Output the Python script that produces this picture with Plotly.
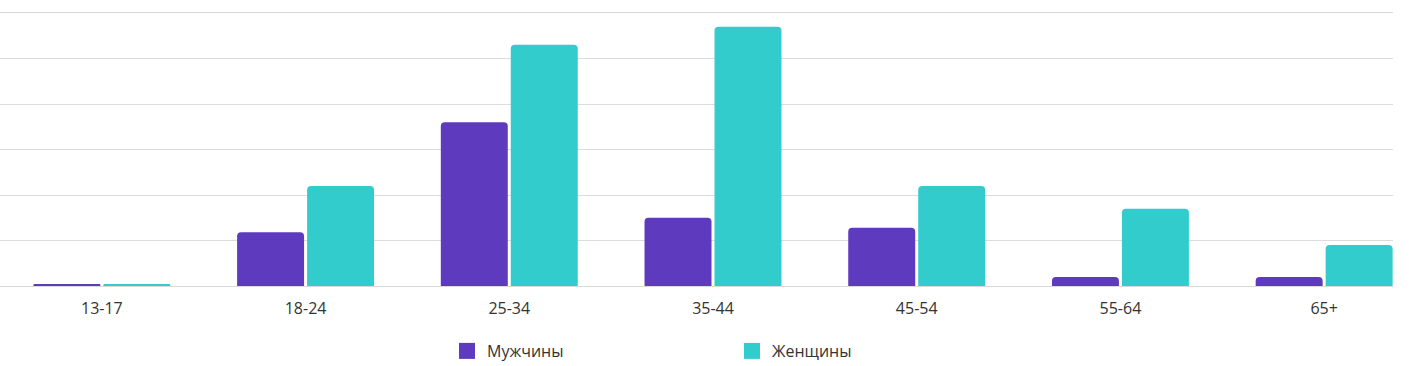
import plotly.graph_objects as go

categories = ["13-17", "18-24", "25-34", "35-44", "45-54", "55-64", "65+"]
men = [0.2, 5.9, 18.0, 7.5, 6.4, 1.0, 1.0]
women = [0.2, 11.0, 26.5, 28.5, 11.0, 8.5, 4.5]
series_names = ["Мужчины", "Женщины"]
colors = ["#5E3BBE", "#33CCCC"]

fig = go.Figure()
for name, vals, col in zip(series_names, [men, women], colors):
    fig.add_trace(go.Bar(x=categories, y=vals, name=name, marker_color=col,
                         marker_line_width=0, showlegend=False))
for name, col in zip(series_names, colors):
    fig.add_trace(go.Scatter(x=[None], y=[None], mode="markers", name=name,
                             marker=dict(symbol="square", size=20, color=col)))

fig.update_layout(
    width=1417, height=366,
    margin=dict(l=0, r=24, t=13, b=80, autoexpand=False),
    paper_bgcolor="white", plot_bgcolor="white",
    barmode="group", bargap=0.313, bargroupgap=0.043, barcornerradius=4,
    font=dict(family="Open Sans, Noto Sans, sans-serif", size=16, color="#333333"),
    showlegend=True,
    legend=dict(orientation="h", x=447/1393, xanchor="left",
                yref="container", y=1 - 351/366, yanchor="middle",
                entrywidth=240, entrywidthmode="pixels",
                font=dict(size=16, color="#333333"), bgcolor="rgba(0,0,0,0)"),
)
fig.update_xaxes(range=[-0.5, 6.338], showgrid=False, ticks="", showline=True, mirror=True,
                 linecolor="#d9d9d9", linewidth=1, ticklabelstandoff=8,
                 tickfont=dict(size=16, color="#333333"))
fig.update_yaxes(range=[0, 30], tickvals=[0, 5, 10, 15, 20, 25, 30],
                 showticklabels=False, showgrid=True,
                 gridcolor="#dcdcdc", gridwidth=1, zeroline=False)

fig.write_html("out.html", config={"displayModeBar": False},
               post_script="document.body.style.margin='0';document.body.style.padding='0';")
